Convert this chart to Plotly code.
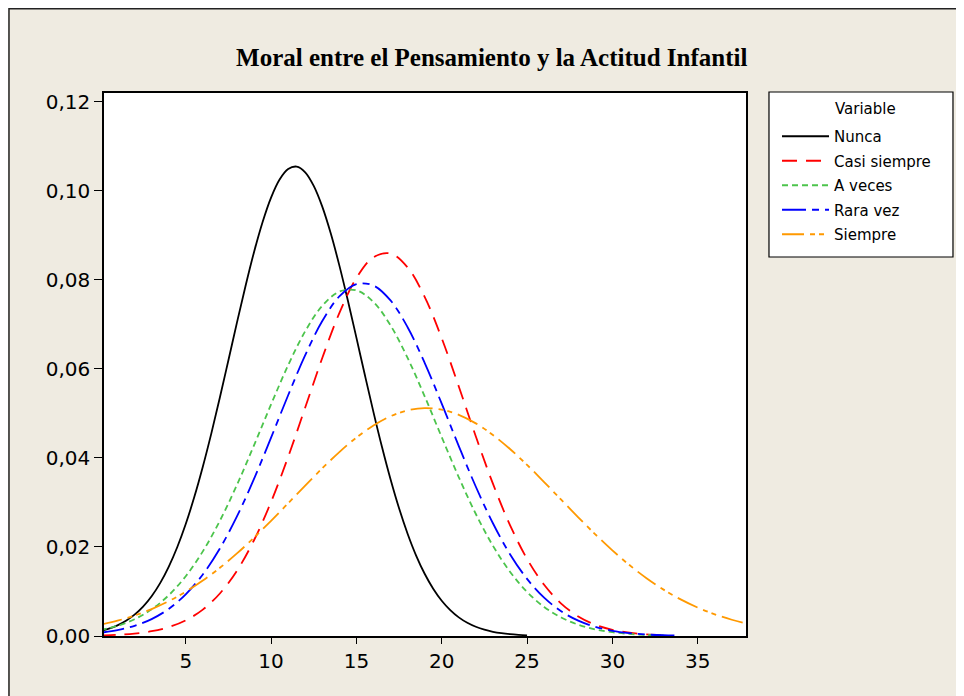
import plotly.graph_objects as go

x_nunca = [0, 0.5, 1, 1.5, 2, 2.5, 3, 3.5, 4, 4.5, 5, 5.5, 6, 6.5, 7, 7.5, 8, 8.5, 9, 9.5,
           10, 10.5, 11, 11.5, 12, 12.5, 13, 13.5, 14, 14.5, 15, 15.5, 16, 16.5, 17, 17.5,
           18, 18.5, 19, 19.5, 20, 20.5, 21, 21.5, 22, 22.5, 23, 23.5, 24, 24.5, 25]
x_vals = list(range(0, 39))

nunca = [0.00112, 0.00165, 0.00240, 0.00342, 0.00479, 0.00660, 0.00893, 0.01188, 0.01553,
         0.01994, 0.02516, 0.03121, 0.03803, 0.04553, 0.05358, 0.06196, 0.07040, 0.07860,
         0.08624, 0.09298, 0.09851, 0.10256, 0.10491, 0.10546, 0.10418, 0.10112, 0.09646,
         0.09041, 0.08327, 0.07537, 0.06703, 0.05858, 0.05031, 0.04245, 0.03521, 0.02869,
         0.02298, 0.01807, 0.01398, 0.01062, 0.00793, 0.00582, 0.00419, 0.00297, 0.00207,
         0.00141, 0.00095, 0.00063, 0.00041, 0.00026, 0.00016]
casi_siempre = [0.00013, 0.00027, 0.00055, 0.00107, 0.00199, 0.00352, 0.00593, 0.00955,
                0.01467, 0.02152, 0.03012, 0.04024, 0.05132, 0.06246, 0.07255, 0.08043,
                0.08509, 0.08593, 0.08282, 0.07619, 0.06689, 0.05605, 0.04482, 0.03422,
                0.02493, 0.01733, 0.01150, 0.00728, 0.00440, 0.00254, 0.00140, 0.00074,
                0.00037, 0.00018]
a_veces = [0.00134, 0.00229, 0.00377, 0.00598, 0.00914, 0.01343, 0.01901, 0.02589,
           0.03394, 0.04284, 0.05203, 0.06084, 0.06847, 0.07419, 0.07737, 0.07766,
           0.07504, 0.06979, 0.06248, 0.05385, 0.04467, 0.03567, 0.02741, 0.02028,
           0.01444, 0.00990, 0.00653, 0.00415, 0.00254, 0.00149, 0.00085, 0.00046,
           0.00024, 0.00012]
rara_vez = [0.00073, 0.00132, 0.00228, 0.00380, 0.00608, 0.00936, 0.01383, 0.01967,
            0.02687, 0.03530, 0.04457, 0.05409, 0.06310, 0.07077, 0.07629, 0.07905,
            0.07874, 0.07539, 0.06938, 0.06139, 0.05220, 0.04267, 0.03353, 0.02533,
            0.01838, 0.01283, 0.00861, 0.00555, 0.00344, 0.00205, 0.00117, 0.00065,
            0.00034, 0.00017, 0.00008]
siempre = [0.00253, 0.00344, 0.00460, 0.00605, 0.00782, 0.00995, 0.01245, 0.01532,
           0.01855, 0.02209, 0.02588, 0.02982, 0.03380, 0.03768, 0.04132, 0.04458,
           0.04730, 0.04937, 0.05069, 0.05120, 0.05086, 0.04970, 0.04777, 0.04517,
           0.04201, 0.03844, 0.03459, 0.03062, 0.02666, 0.02284, 0.01924, 0.01594,
           0.01299, 0.01042, 0.00822, 0.00638, 0.00487, 0.00365, 0.00270]

series_names = ["Nunca", "Casi siempre", "A veces", "Rara vez", "Siempre"]
series_vals = [nunca, casi_siempre, a_veces, rara_vez, siempre]
series_x = [x_nunca, x_vals, x_vals, x_vals, x_vals]
colors = ["#000000", "#FF0000", "#4CC44C", "#0000FF", "#FF9900"]
dashes = ["solid", "15px,9px", "6px,4px", "24px,6px,7px,6px", "22px,6px,5px,4px,5px,6px"]

y_ticks = [0.00, 0.02, 0.04, 0.06, 0.08, 0.10, 0.12]
y_tick_text = ["0,00", "0,02", "0,04", "0,06", "0,08", "0,10", "0,12"]
x_ticks = [5, 10, 15, 20, 25, 30, 35]

FONT = "DejaVu Sans, Verdana, sans-serif"

fig = go.Figure()
for name, xs, vals, c, d in zip(series_names, series_x, series_vals, colors, dashes):
    fig.add_trace(go.Scatter(
        x=xs[:len(vals)], y=vals, name=name, mode="lines", legendgroup=name,
        line=dict(color=c, width=1.8, dash=d, shape="spline", smoothing=1.0),
    ))

bg = "#EFEBE1"
fig.update_layout(
    width=956, height=688,
    paper_bgcolor=bg, plot_bgcolor="white",
    margin=dict(l=96, r=218, t=85, b=60, autoexpand=False),
    title=dict(text="<b>Moral entre el Pensamiento y la Actitud Infantil</b>",
               font=dict(family="Liberation Serif, Times New Roman, serif", size=25, color="black"),
               x=0.506, xref="container", xanchor="center",
               y=0.928, yref="container", yanchor="middle"),
    xaxis=dict(range=[0.21, 37.83], tickvals=x_ticks, ticks="outside", ticklen=6,
               tickwidth=1.2, tickcolor="black", showline=True, linecolor="black",
               linewidth=1.5, mirror=True, showgrid=False, zeroline=False,
               tickfont=dict(family=FONT, size=20, color="black")),
    yaxis=dict(range=[0, 0.122], tickvals=y_ticks, ticktext=y_tick_text, ticks="outside",
               ticklen=8, tickwidth=1.2, tickcolor="black", showline=True, linecolor="black",
               linewidth=1.5, mirror=True, showgrid=False, zeroline=False,
               tickfont=dict(family=FONT, size=20, color="black")),
    legend=dict(x=1.0483, y=0.9503, xanchor="left", yanchor="top",
                bgcolor="rgba(0,0,0,0)", borderwidth=0,
                font=dict(family=FONT, size=15, color="black"),
                itemwidth=47, tracegroupgap=2),
    shapes=[
        # outer chart frame
        dict(type="rect", xref="paper", yref="paper", x0=-0.148, x1=1.45, y0=-0.25, y1=1.1553,
             line=dict(color="#222222", width=1.5), fillcolor="rgba(0,0,0,0)", layer="below"),
        # legend box
        dict(type="rect", xref="paper", yref="paper", x0=1.0358, x1=1.3224, y0=0.698, y1=1.0018,
             line=dict(color="black", width=1.2), fillcolor="white", layer="below"),
    ],
    annotations=[
        dict(text="Variable", xref="paper", yref="paper", x=1.1854, y=0.9705,
             xanchor="center", yanchor="middle", showarrow=False,
             font=dict(family=FONT, size=15, color="black")),
    ],
)

fig.write_html("out.html")
